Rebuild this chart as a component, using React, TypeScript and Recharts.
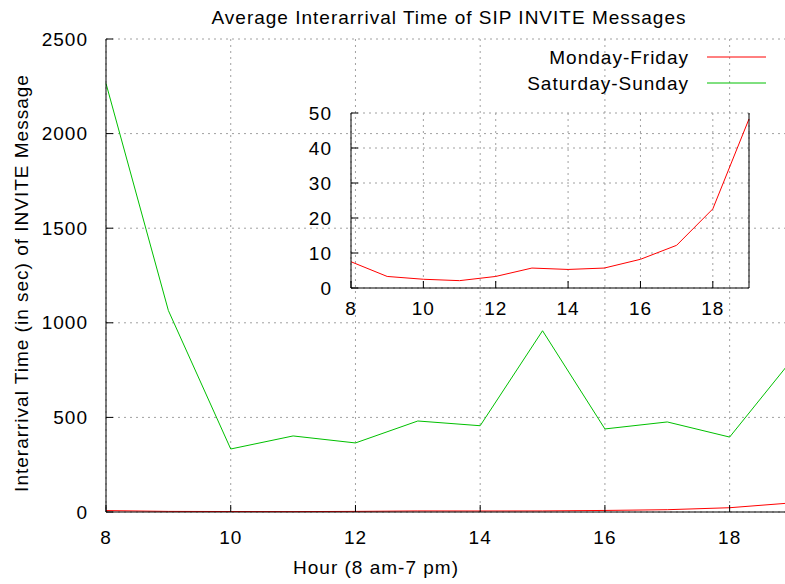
import { LineChart, Line, XAxis, YAxis, CartesianGrid } from "recharts"

const hours = [8, 9, 10, 11, 12, 13, 14, 15, 16, 17, 18, 19]
const weekdayAvg = [7.5, 3.3, 2.5, 2.1, 3.3, 5.7, 5.3, 5.7, 8.2, 12.2, 22.6, 48.3]
const weekendAvg = [2265, 1065, 333, 402, 365, 481, 456, 958, 439, 476, 396, 805]

const hourTicks = [8, 10, 12, 14, 16, 18]
const mainYTicks = [0, 500, 1000, 1500, 2000, 2500]
const insetYTicks = [0, 10, 20, 30, 40, 50]

const seriesNames = ["Monday-Friday", "Saturday-Sunday"]
const seriesKeys = ["weekday", "weekend"]
const seriesColors = ["#ff0000", "#00c000"]

const data = hours.map((h, i) => ({ hour: h, weekday: weekdayAvg[i], weekend: weekendAvg[i] }))

const FONT = "'Liberation Sans', Arial, sans-serif"
const FONT_SIZE = 19
const SPACING = 1
const TICK_LEN = 7
const GRID = { stroke: "#a0a0a0", strokeDasharray: "2 4" }

const textStyle = { fontFamily: FONT, fontSize: FONT_SIZE, letterSpacing: SPACING, fill: "#000" }

// gnuplot style ticks: short marks pointing into the plot, labels outside
function tickFor(side: "bottom" | "top" | "left" | "right", gap: number, showLabel: boolean) {
  return (props: any) => {
    const { x, y, payload } = props
    if (side === "bottom") {
      const ay = y - gap
      return (
        <g>
          <line x1={x} y1={ay} x2={x} y2={ay - TICK_LEN} stroke="#000" />
          {showLabel && (
            <text x={x} y={y} textAnchor="middle" dominantBaseline="central" style={textStyle}>
              {payload.value}
            </text>
          )}
        </g>
      )
    }
    if (side === "left") {
      const ax = x + gap
      return (
        <g>
          <line x1={ax} y1={y} x2={ax + TICK_LEN} y2={y} stroke="#000" />
          {showLabel && (
            <text x={x} y={y} textAnchor="end" dominantBaseline="central" style={textStyle}>
              {payload.value}
            </text>
          )}
        </g>
      )
    }
    if (side === "top") {
      return <line x1={x} y1={y} x2={x} y2={y + TICK_LEN} stroke="#000" />
    }
    return <line x1={x} y1={y} x2={x - TICK_LEN} y2={y} stroke="#000" />
  }
}

export default function App() {
  return (
    <div style={{ position: "absolute", left: 0, top: 0, width: 785, height: 584, overflow: "hidden", background: "#fff" }}>
      {/* main chart */}
      <div style={{ position: "absolute", left: 0, top: 0 }}>
        <LineChart width={800} height={584} data={data} margin={{ top: 39, right: 0, bottom: 0, left: 0 }}>
          <CartesianGrid xAxisId="b" yAxisId="l" {...GRID} />
          <XAxis xAxisId="b" dataKey="hour" type="number" domain={[8, 19]} ticks={hourTicks} interval={0}
            height={72} tickSize={0} tickMargin={25} stroke="#000" tick={tickFor("bottom", 25, true)} />
          <XAxis xAxisId="t" orientation="top" dataKey="hour" type="number" domain={[8, 19]} ticks={hourTicks}
            interval={0} height={0} tickSize={0} tickMargin={0} stroke="#333" tick={tickFor("top", 0, false)} />
          <YAxis yAxisId="l" type="number" domain={[0, 2500]} ticks={mainYTicks} interval={0} width={106}
            tickSize={0} tickMargin={18} stroke="#000" tick={tickFor("left", 18, true)} />
          <YAxis yAxisId="r" orientation="right" type="number" domain={[0, 2500]} ticks={mainYTicks} interval={0}
            width={8} tickSize={0} tickMargin={0} stroke="#000" tick={tickFor("right", 0, false)} />
          {seriesKeys.map((k, i) => (
            <Line key={k} xAxisId="b" yAxisId="l" dataKey={k} stroke={seriesColors[i]} strokeWidth={1}
              dot={false} isAnimationActive={false} />
          ))}
        </LineChart>
      </div>

      {/* inset: weekday curve at its own scale */}
      <div style={{ position: "absolute", left: 291, top: 93 }}>
        <LineChart width={463} height={225} data={data} margin={{ top: 20, right: 0, bottom: 0, left: 0 }}>
          <CartesianGrid xAxisId="b" yAxisId="l" {...GRID} />
          <XAxis xAxisId="b" dataKey="hour" type="number" domain={[8, 19]} ticks={hourTicks} interval={0}
            height={30} tickSize={0} tickMargin={20} stroke="#000" tick={tickFor("bottom", 20, true)} />
          <XAxis xAxisId="t" orientation="top" dataKey="hour" type="number" domain={[8, 19]} ticks={hourTicks}
            interval={0} height={0} tickSize={0} tickMargin={0} stroke="#000" tick={tickFor("top", 0, false)} />
          <YAxis yAxisId="l" type="number" domain={[0, 50]} ticks={insetYTicks} interval={0} width={60}
            tickSize={0} tickMargin={19} stroke="#000" tick={tickFor("left", 19, true)} />
          <YAxis yAxisId="r" orientation="right" type="number" domain={[0, 50]} ticks={insetYTicks} interval={0}
            width={5} tickSize={0} tickMargin={0} stroke="#000" tick={tickFor("right", 0, false)} />
          <Line xAxisId="b" yAxisId="l" dataKey="weekday" stroke={seriesColors[0]} strokeWidth={1}
            dot={false} isAnimationActive={false} />
        </LineChart>
      </div>

      {/* title, axis titles and key */}
      <svg width={785} height={584} style={{ position: "absolute", left: 0, top: 0, pointerEvents: "none" }}>
        <text x={449} y={17} textAnchor="middle" dominantBaseline="central" style={textStyle}>
          Average Interarrival Time of SIP INVITE Messages
        </text>
        <text x={376} y={567} textAnchor="middle" dominantBaseline="central" style={textStyle}>
          Hour (8 am-7 pm)
        </text>
        <text x={21} y={283} transform="rotate(-90 21 283)" textAnchor="middle" dominantBaseline="central" style={textStyle}>
          Interarrival Time (in sec) of INVITE Message
        </text>
        {seriesNames.map((name, i) => (
          <g key={name}>
            <text x={689} y={57 + 26 * i} textAnchor="end" dominantBaseline="central" style={textStyle}>
              {name}
            </text>
            <line x1={707} y1={57 + 26 * i} x2={766} y2={57 + 26 * i} stroke={seriesColors[i]} />
          </g>
        ))}
      </svg>
    </div>
  )
}
